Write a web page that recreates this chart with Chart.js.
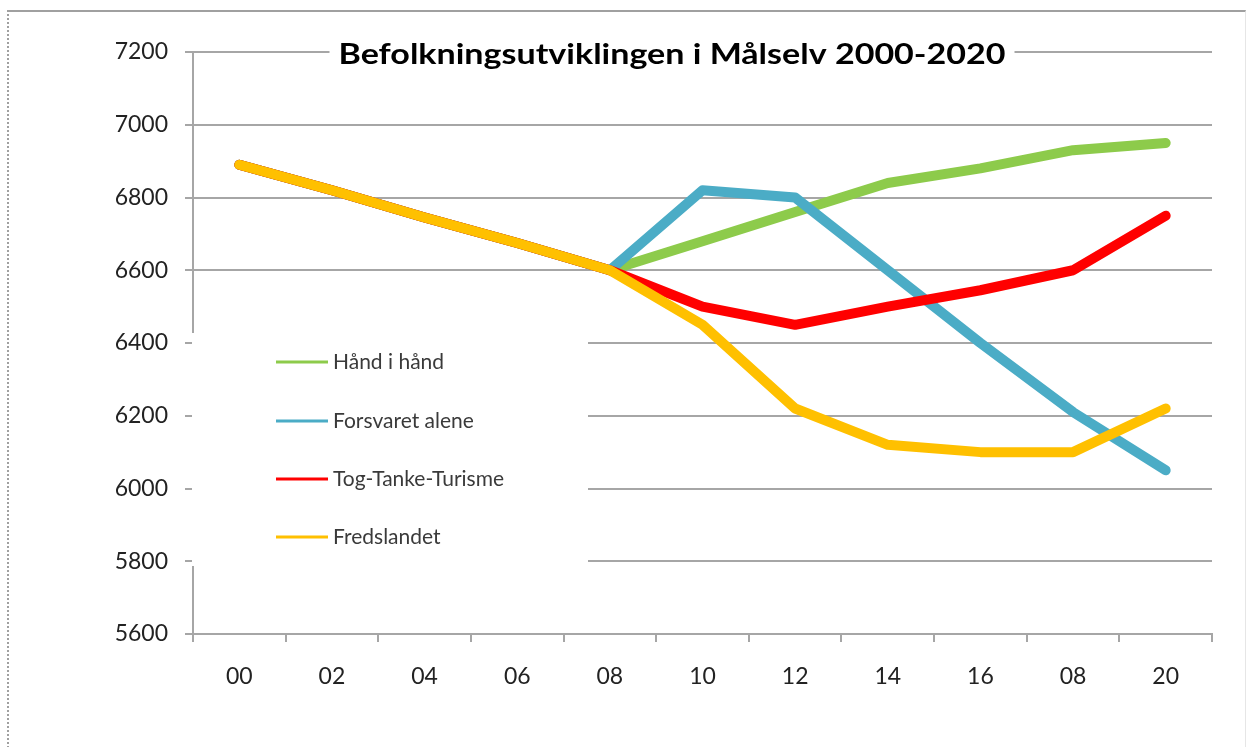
<!DOCTYPE html>
<html>
<head>
<meta charset="utf-8">
<script src="https://cdn.jsdelivr.net/npm/chart.js@4"></script>
<style>
  html, body { margin: 0; padding: 0; background: #fff; }
  #wrap { position: relative; width: 1247px; height: 747px; overflow: hidden; }
  #frame { position: absolute; left: 7px; top: 10px; width: 1236px; height: 760px;
           border-top: 2px solid #a0a0a0; border-left: 2px dotted #a0a0a0; border-right: 1px solid #e6e6e6; }
  canvas { position: absolute; left: 0; top: 0; }
</style>
</head>
<body>
<div id="wrap">
  <div id="frame"></div>
  <canvas id="c" width="1247" height="747"></canvas>
</div>
<script>
const categories = ["00", "02", "04", "06", "08", "10", "12", "14", "16", "08", "20"];
const handIHand       = [6890, 6820, 6745, 6675, 6600, 6680, 6760, 6840, 6880, 6930, 6950];
const forsvaretAlene  = [6890, 6820, 6745, 6675, 6600, 6820, 6800, 6600, 6400, 6210, 6050];
const togTankeTurisme = [6890, 6820, 6745, 6675, 6600, 6500, 6450, 6500, 6545, 6600, 6750];
const fredslandet     = [6890, 6820, 6745, 6675, 6600, 6450, 6220, 6120, 6100, 6100, 6220];
const seriesNames = ["Hånd i hånd", "Forsvaret alene", "Tog-Tanke-Turisme", "Fredslandet"];
const seriesColors = ["#8DCB4B", "#4BACC6", "#FF0000", "#FFC000"];
const titleText = "Befolkningsutviklingen i Målselv 2000-2020";
const yMin = 5600, yMax = 7200, yStep = 200;

const FONT = "Lato, 'Open Sans', sans-serif";
const GRID = "#a6a6a6";

const overlayPlugin = {
  id: "overlay",
  beforeDatasetsDraw(chart) {
    const ctx = chart.ctx;
    const a = chart.chartArea;
    ctx.save();
    // Title on top gridline with white background
    ctx.font = "bold 29px " + FONT;
    const tw = ctx.measureText(titleText).width;
    const targetW = 667;
    const cx = 672, cy = a.top + 3;
    ctx.fillStyle = "#fff";
    ctx.fillRect(cx - targetW / 2 - 9, a.top - 18, targetW + 18, 36);
    ctx.save();
    ctx.translate(cx, cy);
    ctx.scale(targetW / tw, 1);
    ctx.fillStyle = "#000";
    ctx.textAlign = "center";
    ctx.textBaseline = "middle";
    ctx.fillText(titleText, 0, 0);
    ctx.restore();

    // Legend box inside plot area
    const lx = a.left - 1, ly = 333;
    ctx.fillStyle = "#fff";
    ctx.fillRect(lx, ly, 396, 233);
    const rows = [362, 421, 479, 537];
    ctx.font = "21px " + FONT;
    ctx.textAlign = "left";
    ctx.textBaseline = "middle";
    chart.data.datasets.forEach((ds, i) => {
      const y = rows[i];
      ctx.strokeStyle = ds.borderColor;
      ctx.lineWidth = 3;
      ctx.beginPath();
      ctx.moveTo(a.left + 83, y);
      ctx.lineTo(a.left + 135, y);
      ctx.stroke();
      ctx.fillStyle = "#3a3a3a";
      ctx.fillText(ds.label, a.left + 140, y);
    });
    ctx.restore();
  }
};

const datasets = [handIHand, forsvaretAlene, togTankeTurisme, fredslandet].map((d, i) => ({
  label: seriesNames[i],
  data: d,
  borderColor: seriesColors[i],
  backgroundColor: seriesColors[i],
  borderWidth: 10,
  borderCapStyle: "round",
  borderJoinStyle: "round",
  pointRadius: 0,
  pointHoverRadius: 0,
  tension: 0,
  fill: false,
  order: 4 - i
}));

new Chart(document.getElementById("c"), {
  type: "line",
  data: { labels: categories, datasets },
  options: {
    responsive: false,
    devicePixelRatio: 1,
    animation: false,
    layout: { padding: { left: 0, right: 35, top: 52, bottom: 0 } },
    plugins: { legend: { display: false }, title: { display: false }, tooltip: { enabled: false } },
    scales: {
      x: {
        offset: true,
        grid: { offset: true, drawOnChartArea: false, drawTicks: true, tickLength: 8, color: GRID, lineWidth: 2 },
        border: { color: GRID, width: 2 },
        ticks: { font: { family: FONT, size: 23 }, color: "#222", padding: 21, maxRotation: 0, autoSkip: false },
        afterFit(s) { s.height = 113; }
      },
      y: {
        min: yMin, max: yMax,
        grid: { color: GRID, lineWidth: 2, tickLength: 8 },
        border: { color: GRID, width: 2 },
        ticks: { stepSize: yStep, font: { family: FONT, size: 23 }, color: "#222", padding: 17,
                 callback: (v) => String(v) },
        afterFit(s) { s.width = 193; }
      }
    }
  },
  plugins: [overlayPlugin]
});
</script>
</body>
</html>
